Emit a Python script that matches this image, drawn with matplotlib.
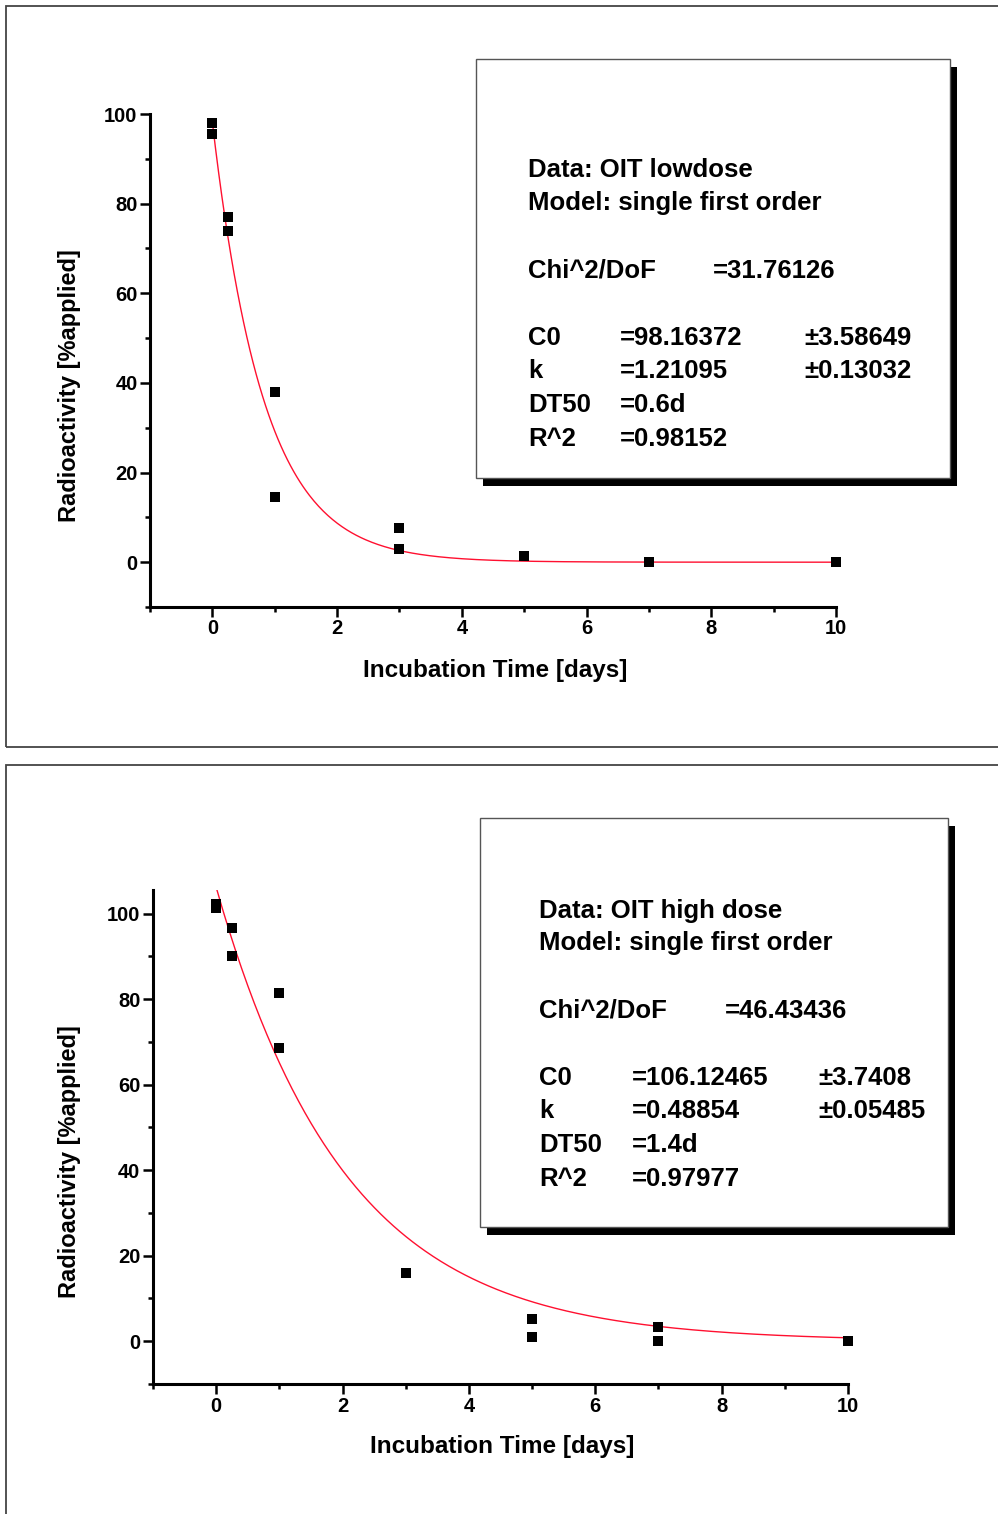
import numpy as np
import matplotlib
matplotlib.use("Agg")
import matplotlib.pyplot as plt
from matplotlib.patches import Rectangle

plt.rcParams["font.family"] = ["Liberation Sans", "DejaVu Sans"]
plt.rcParams["font.weight"] = "bold"

W, H = 998, 1514   # canvas size in pixels

# ---- measured points (incubation time [d], radioactivity [% applied]) ----
low_t = [0, 0, 0.25, 0.25, 1, 1, 3, 3, 5, 7, 10]
low_y = [98, 95.5, 77, 74, 38, 14.5, 7.6, 3.0, 1.3, 0, 0]
high_t = [0, 0, 0.25, 0.25, 1, 1, 3, 5, 5, 7, 7, 10]
high_y = [102.3, 101.2, 96.7, 90, 81.5, 68.6, 15.9, 5.2, 1.0, 3.3, 0, 0]

# ---- fit results shown in the boxes ----
low_C0, low_k = 98.16372, 1.21095
high_C0, high_k = 106.12465, 0.48854
low_head = ["Data: OIT lowdose", "Model: single first order"]
high_head = ["Data: OIT high dose", "Model: single first order"]
low_chi = "=31.76126"
high_chi = "=46.43436"
low_rows = [("C0", "=98.16372", "±3.58649"), ("k", "=1.21095", "±0.13032"),
            ("DT50", "=0.6d", ""), ("R^2", "=0.98152", "")]
high_rows = [("C0", "=106.12465", "±3.7408"), ("k", "=0.48854", "±0.05485"),
             ("DT50", "=1.4d", ""), ("R^2", "=0.97977", "")]

x_major = [0, 2, 4, 6, 8, 10]
x_minor = [-1, 1, 3, 5, 7, 9]
y_major = [0, 20, 40, 60, 80, 100]
y_minor = [-10, 10, 30, 50, 70, 90]


def fx(px):
    return px / W


def fy(py):
    return 1 - py / H


def panel(rect, t, y, C0, k, ylim, ylab_xy, xlab_xy):
    ax = fig.add_axes(rect)
    ax.set_xlim(-1, 10)
    ax.set_ylim(*ylim)
    tt = np.linspace(0, 10, 400)
    ax.plot(tt, C0 * np.exp(-k * tt), color="#ff1030", lw=1.0, zorder=2)
    ax.plot(t, y, "s", color="black", ms=6.8, mew=0, zorder=3, clip_on=False)
    for s in ("top", "right"):
        ax.spines[s].set_visible(False)
    for s in ("left", "bottom"):
        ax.spines[s].set_linewidth(2.2)
    ax.set_xticks(x_major)
    ax.set_xticks(x_minor, minor=True)
    ax.set_yticks(y_major)
    ax.set_yticks(y_minor, minor=True)
    ax.tick_params(which="major", length=7, width=1.8, pad=2)
    ax.tick_params(which="minor", length=3.5, width=1.8)
    plt.setp(ax.get_xticklabels() + ax.get_yticklabels(), fontweight="bold", fontsize=14.5)
    fig.text(fx(ylab_xy[0]), fy(ylab_xy[1]), "Radioactivity [%applied]", rotation=90,
             ha="center", va="center", fontsize=17, fontweight="bold")
    fig.text(fx(xlab_xy[0]), fy(xlab_xy[1]), "Incubation Time [days]",
             ha="center", va="center", fontsize=17.5, fontweight="bold")
    return ax


def stats_box(x0, y0, x1, y1, cols, base, head, chi, rows):
    # shadow, then white box with thin grey border
    fig.add_artist(Rectangle((fx(x0 + 7), fy(y1 + 8)), fx(x1 - x0), (y1 - y0) / H,
                             transform=fig.transFigure, facecolor="black", edgecolor="none"))
    fig.add_artist(Rectangle((fx(x0), fy(y1)), fx(x1 - x0), (y1 - y0) / H,
                             transform=fig.transFigure, facecolor="white",
                             edgecolor="#555555", lw=1.0))
    kw = dict(fontsize=18.5, fontweight="bold", va="baseline", ha="left")
    fig.text(fx(cols[0]), fy(base[0]), head[0], **kw)
    fig.text(fx(cols[0]), fy(base[1]), head[1], **kw)
    fig.text(fx(cols[0]), fy(base[2]), "Chi^2/DoF", **kw)
    fig.text(fx(cols[2]), fy(base[2]), chi, **kw)
    for i, (name, val, err) in enumerate(rows):
        fig.text(fx(cols[0]), fy(base[3 + i]), name, **kw)
        fig.text(fx(cols[1]), fy(base[3 + i]), val, **kw)
        if err:
            fig.text(fx(cols[3]), fy(base[3 + i]), err, **kw)


fig = plt.figure(figsize=(W / 100, H / 100), dpi=100)

# outer panel frames
for top, bot in ((6, 747), (765, 1530)):
    fig.add_artist(Rectangle((fx(6), fy(bot)), fx(1100), (bot - top) / H,
                             transform=fig.transFigure, facecolor="none",
                             edgecolor="#444444", lw=1.3))

# top panel: low dose
panel([fx(150), fy(607), fx(836 - 150), (607 - 114) / H], low_t, low_y, low_C0, low_k,
      (-10, 100), (70, 386), (495, 671))
stats_box(476, 59, 950, 478, (528, 620, 713, 804),
          (177, 210, 278, 345, 378, 412, 446), low_head, low_chi, low_rows)

# bottom panel: high dose
panel([fx(153), fy(1384), fx(848 - 153), (1384 - 890) / H], high_t, high_y, high_C0, high_k,
      (-10, 105.5), (70, 1162), (502, 1447))
stats_box(480, 818, 948, 1227, (539, 632, 725, 818),
          (918, 950, 1018, 1085, 1118, 1152, 1186), high_head, high_chi, high_rows)

fig.savefig("out.png", dpi=100)
